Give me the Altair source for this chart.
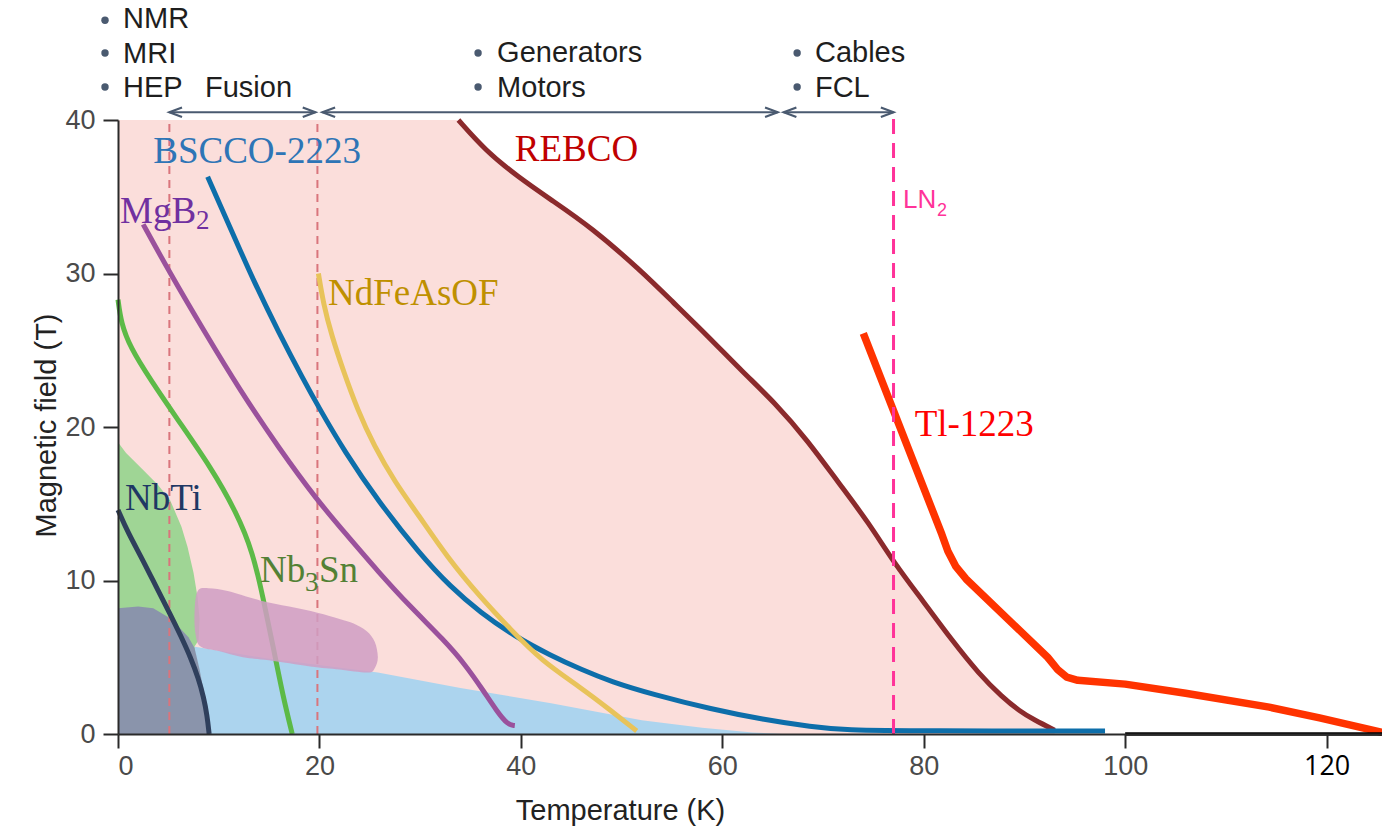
import altair as alt
import pandas as pd

# ---------------- data (temperature in K, field in T) ----------------
nbti_t = [0.0, 1.0, 2.5, 4.0, 5.2, 6.3, 7.2, 8.0, 8.5, 8.85, 9.05]
nbti_b = [14.6, 13.1, 11.3, 9.3, 7.8, 6.3, 5.0, 3.6, 2.4, 1.2, 0.0]

nb3sn_t = [0.0, 0.3, 1.2, 3.2, 5.9, 9.2, 11.8, 13.4, 14.4, 15.4, 16.4, 17.3]
nb3sn_b = [28.3, 26.8, 25.2, 23.1, 20.5, 17.4, 14.4, 11.8, 8.9, 5.7, 2.4, 0.0]

mgb2_t = [2.5, 5.1, 8.5, 12.1, 16.0, 19.8, 22.8, 25.8, 29.0, 32.4, 34.5, 36.3, 37.6, 38.7, 39.4]
mgb2_b = [33.2, 30.1, 26.3, 22.4, 18.6, 15.2, 12.9, 10.6, 8.3, 6.1, 4.5, 2.8, 1.5, 0.6, 0.55]

bscco_t = [8.9, 11.0, 13.4, 16.0, 18.4, 20.0, 22.5, 25.8, 30.0, 33.0, 36.0, 39.3, 43.0, 46.0,
           49.0, 53.0, 59.0, 64.0, 69.0, 72.0, 80.0, 98.0]
bscco_b = [36.3, 33.2, 29.6, 26.1, 23.1, 21.2, 18.4, 15.2, 11.7, 9.6, 7.9, 6.4, 5.1, 4.2,
           3.4, 2.6, 1.6, 0.95, 0.45, 0.25, 0.2, 0.2]

ndfe_t = [19.9, 20.4, 21.2, 22.4, 23.8, 25.4, 27.5, 29.8, 32.7, 36.0, 39.0, 42.0, 46.0, 49.0, 51.5]
ndfe_b = [30.0, 28.0, 26.0, 23.6, 21.1, 18.8, 16.4, 14.3, 11.5, 8.9, 6.8, 4.8, 3.0, 1.5, 0.2]

rebco_t = [33.8, 36.5, 39.7, 43.0, 47.0, 51.9, 55.0, 58.6, 62.0, 65.2, 68.5, 71.5, 74.5,
           77.1, 80.0, 82.8, 85.5, 87.8, 89.5, 91.0, 93.0]
rebco_b = [40.0, 38.0, 36.3, 34.8, 33.0, 30.2, 28.2, 25.9, 23.6, 21.6, 19.1, 16.4, 13.8,
           11.1, 8.6, 6.1, 3.9, 2.4, 1.5, 0.9, 0.25]

tl_t = [74.0, 81.8, 82.4, 83.2, 84.2, 92.3, 93.3, 94.2, 95.3, 100.0, 106.0, 114.3, 119.3, 125.5]
tl_b = [26.1, 13.0, 11.9, 10.9, 10.1, 5.0, 4.2, 3.7, 3.5, 3.25, 2.65, 1.75, 1.05, 0.1]

# shaded regions (closed outlines)
blue_t = [0.0, 7.5, 15.0, 25.8, 34.0, 43.0, 52.0, 58.0, 63.0, 66.0, 0.0]
blue_b = [6.0, 5.7, 4.9, 4.0, 3.0, 2.0, 0.9, 0.4, 0.1, 0.0, 0.0]

green_t = [0.0, 0.8, 2.5, 4.0, 5.2, 6.3, 6.9, 7.5, 7.9, 8.1, 8.0, 7.6, 7.6, 0.0]
green_b = [19.0, 18.3, 17.2, 16.2, 15.2, 13.5, 12.2, 10.5, 8.9, 7.5, 6.1, 5.7, 0.0, 0.0]

grey_t = [0.0, 2.0, 3.5, 5.0, 6.0, 7.0, 7.6, 8.1, 8.6, 8.9, 9.0, 0.0]
grey_b = [8.2, 8.3, 8.2, 7.6, 7.0, 6.3, 5.6, 4.2, 2.5, 1.2, 0.0, 0.0]

blob_t = [7.9, 9.0, 11.0, 14.1, 17.0, 19.8, 22.0, 23.4, 24.7, 25.5, 25.8, 25.5, 24.8,
          22.0, 19.1, 15.0, 12.4, 10.0, 8.2, 7.7, 7.6]
blob_b = [9.3, 9.5, 9.3, 8.7, 8.3, 7.9, 7.5, 7.2, 6.7, 6.0, 5.0, 4.3, 4.0,
          4.2, 4.4, 4.8, 5.0, 5.4, 5.7, 6.5, 7.9]

# pink region under the REBCO curve
pink_t = [0.0, 33.0, 33.6] + rebco_t
pink_b = [40.0, 40.0, 40.0] + rebco_b

# reference temperatures
fusion_lines = [5.1, 19.8]
ln2_temp = 77.0

# application ranges (arrows)
arrow_from = [5.1, 20.3, 66.1]
arrow_to = [19.6, 65.5, 77.0]

# material labels
mat_labels = ["BSCCO-2223", "REBCO", "NdFeAsOF", "Tl-1223", "NbTi"]
mat_x = [3.5, 39.4, 20.85, 79.1, 0.7]
mat_y = [37.2, 37.3, 27.95, 19.4, 14.6]
mat_colors = ["#2e75b6", "#c00000", "#bf9000", "#ff0000", "#1f3864"]

# application labels
app_labels = ["NMR", "MRI", "HEP", "Fusion", "Generators", "Motors", "Cables", "FCL"]
app_x = [0.5, 0.5, 0.5, 8.64, 37.64, 37.64, 69.2, 69.2]
app_y = [46.0, 43.72, 41.5, 41.5, 43.78, 41.5, 43.78, 41.5]
bullet_x = [-1.29, -1.29, -1.29, 35.75, 35.75, 67.43, 67.43]
bullet_y = [46.5, 44.37, 42.15, 44.37, 42.15, 44.37, 42.15]

X_MAX = 125.5
Y_MAX = 40

# ---------------- scales / axes ----------------
xscale = alt.Scale(domain=[0, X_MAX], nice=False, zero=False)
yscale = alt.Scale(domain=[0, Y_MAX], nice=False, zero=False)

xaxis = alt.Axis(
    title="Temperature (K)", values=[0, 20, 40, 60, 80, 100, 120], grid=False,
    domainColor="#2a2a2a", domainWidth=2, tickColor="#2a2a2a", tickWidth=2, tickSize=14,
    labelFontSize=27, labelFont={"expr": "datum.value == 120 ? 'Open Sans' : 'Liberation Sans'"},
    labelColor={"expr": "datum.value == 120 ? '#000000' : '#4a4a4a'"},
    labelPadding=5, titleFont="Liberation Sans", titleFontSize=29, titleFontWeight="normal",
    titleColor="#222222", titleX=502, titleY=85, titleBaseline="alphabetic",
    titleAnchor="middle", titleAlign="center", zindex=1)
yaxis = alt.Axis(
    title="Magnetic field (T)", values=[0, 10, 20, 30, 40], grid=False,
    domainColor="#2a2a2a", domainWidth=2, tickColor="#2a2a2a", tickWidth=2, tickSize=15,
    labelFontSize=27, labelFont="Liberation Sans", labelColor="#4a4a4a", labelPadding=8,
    titleFont="Liberation Sans", titleFontSize=29, titleFontWeight="normal",
    titleColor="#222222", titleX=-63, titleY=305, titleAngle=270,
    titleBaseline="alphabetic", titleAlign="center", zindex=1)


def X(f="x"):
    return alt.X(f"{f}:Q", scale=xscale, axis=xaxis)


def Y(f="y"):
    return alt.Y(f"{f}:Q", scale=yscale, axis=yaxis)


def df_xy(xs, ys):
    return pd.DataFrame({"x": xs, "y": ys, "i": list(range(len(xs)))})


def poly(xs, ys, color, interp="linear-closed", opacity=1.0, clip=False):
    return alt.Chart(df_xy(xs, ys)).mark_line(
        interpolate=interp, fill=color, fillOpacity=opacity, strokeOpacity=0, strokeWidth=0,
        clip=clip
    ).encode(x=X(), y=Y(), order=alt.Order("i:Q"))


def curve(xs, ys, color, width=5.0, interp="basis"):
    return alt.Chart(df_xy(xs, ys)).mark_line(
        interpolate=interp, color=color, strokeWidth=width, strokeCap="butt", strokeJoin="round"
    ).encode(x=X(), y=Y(), order=alt.Order("i:Q"))


layers = []

# pink REBCO region
layers.append(alt.Chart(df_xy(pink_t, pink_b)).mark_area(
    interpolate="basis", color="#fbdedb").encode(x=X(), y=Y()))
layers.append(poly(blue_t, blue_b, "#acd4ee"))
layers.append(poly(green_t, green_b, "#9fd595", clip=True))
layers.append(poly(grey_t, grey_b, "#8a94ab", clip=True))

# fusion dashed rules
fus = pd.DataFrame({"x": fusion_lines, "y": [0.0] * 2, "y2": [float(Y_MAX)] * 2})
layers.append(alt.Chart(fus).mark_rule(color="#d9757c", strokeWidth=2, strokeDash=[8, 6]).encode(
    x=X(), y=Y(), y2="y2:Q"))

# curves
layers.append(curve(rebco_t, rebco_b, "#8b2a2c", 5))
layers.append(curve(bscco_t, bscco_b, "#0d6eaa", 5))
layers.append(curve(ndfe_t, ndfe_b, "#e8c35a", 5))
layers.append(curve(mgb2_t, mgb2_b, "#9a519c", 5))
layers.append(curve(nb3sn_t, nb3sn_b, "#5cba47", 5))
layers.append(curve(nbti_t, nbti_b, "#2f3f5c", 5))

# pink-purple blob over lines
layers.append(poly(blob_t, blob_b, "#cf9dc3", interp="cardinal-closed", opacity=0.85))

# Tl-1223
layers.append(curve(tl_t, tl_b, "#ff3300", 7.5, interp="linear"))

# LN2 line
ln2 = pd.DataFrame({"x": [ln2_temp], "y": [0.0], "y2": [40.5]})
layers.append(alt.Chart(ln2).mark_rule(color="#ff3399", strokeWidth=3, strokeDash=[15, 9]).encode(
    x=X(), y=Y(), y2="y2:Q"))

# black extension of the temperature axis
ext = pd.DataFrame({"x": [100.0], "x2": [X_MAX], "y": [0.0]})
layers.append(alt.Chart(ext).mark_rule(color="#000000", strokeWidth=3.5).encode(
    x=X(), x2="x2:Q", y=Y()))

# arrows
arr = pd.DataFrame({"x": arrow_from, "x2": arrow_to, "y": [40.5] * 3})
layers.append(alt.Chart(arr).mark_rule(color="#4a5a70", strokeWidth=2).encode(
    x=X(), x2="x2:Q", y=Y()))
heads = pd.DataFrame({"x": arrow_from + arrow_to, "y": [40.5] * 6,
                      "ang": [180] * 3 + [0] * 3})
layers.append(alt.Chart(heads).mark_point(
    shape="M-2,-0.75L0,0L-2,0.75", filled=False, color="#4a5a70", strokeWidth=2.2,
    size=160, opacity=1).encode(x=X(), y=Y(), angle=alt.Angle("ang:Q", scale=None)))

# bullets
bul = df_xy(bullet_x, bullet_y)
layers.append(alt.Chart(bul).mark_point(shape="circle", filled=True, color="#4a5a70",
                                        size=55, opacity=1).encode(x=X(), y=Y()))

# application text
app = pd.DataFrame({"x": app_x, "y": app_y, "label": app_labels})
layers.append(alt.Chart(app).mark_text(align="left", baseline="alphabetic", font="Liberation Sans",
                                       fontSize=29, color="#1e1e1e").encode(
    x=X(), y=Y(), text="label:N"))

# material labels (serif)
mat = pd.DataFrame({"x": mat_x, "y": mat_y, "label": mat_labels, "c": mat_colors})
layers.append(alt.Chart(mat).mark_text(align="left", baseline="alphabetic", font="Liberation Serif",
                                       fontSize=37).encode(
    x=X(), y=Y(), text="label:N", color=alt.Color("c:N", scale=None)))

# MgB2
mg = pd.DataFrame({"x": [0.2], "y": [33.3]})
layers.append(alt.Chart(mg).mark_text(text="MgB", align="left", baseline="alphabetic",
                                      font="Liberation Serif", fontSize=37, color="#7030a0").encode(x=X(), y=Y()))
layers.append(alt.Chart(mg).mark_text(text="2", align="left", baseline="alphabetic", dx=76, dy=6,
                                      font="Liberation Serif", fontSize=27, color="#7030a0").encode(x=X(), y=Y()))

# Nb3Sn
nbs = pd.DataFrame({"x": [14.1], "y": [9.9]})
layers.append(alt.Chart(nbs).mark_text(text="Nb", align="left", baseline="alphabetic",
                                       font="Liberation Serif", fontSize=37, color="#538135").encode(x=X(), y=Y()))
layers.append(alt.Chart(nbs).mark_text(text="3", align="left", baseline="alphabetic", dx=45, dy=9,
                                       font="Liberation Serif", fontSize=27, color="#538135").encode(x=X(), y=Y()))
layers.append(alt.Chart(nbs).mark_text(text="Sn", align="left", baseline="alphabetic", dx=59,
                                       font="Liberation Serif", fontSize=37, color="#538135").encode(x=X(), y=Y()))

# LN2 label
lnl = pd.DataFrame({"x": [77.95], "y": [34.27]})
layers.append(alt.Chart(lnl).mark_text(text="LN", align="left", baseline="alphabetic",
                                       font="Liberation Sans", fontSize=26, color="#ff3399").encode(x=X(), y=Y()))
layers.append(alt.Chart(lnl).mark_text(text="2", align="left", baseline="alphabetic", dx=34, dy=8,
                                       font="Liberation Sans", fontSize=18, color="#ff3399").encode(x=X(), y=Y()))

chart = alt.layer(*layers).properties(
    width=1264, height=614,
    padding={"left": 118, "top": 120, "right": 0, "bottom": 95},
    autosize=alt.AutoSizeParams(type="none"),
    background="#ffffff",
).configure_view(stroke=None)

chart.save("out.html", embed_options={"renderer": "svg", "actions": False})
